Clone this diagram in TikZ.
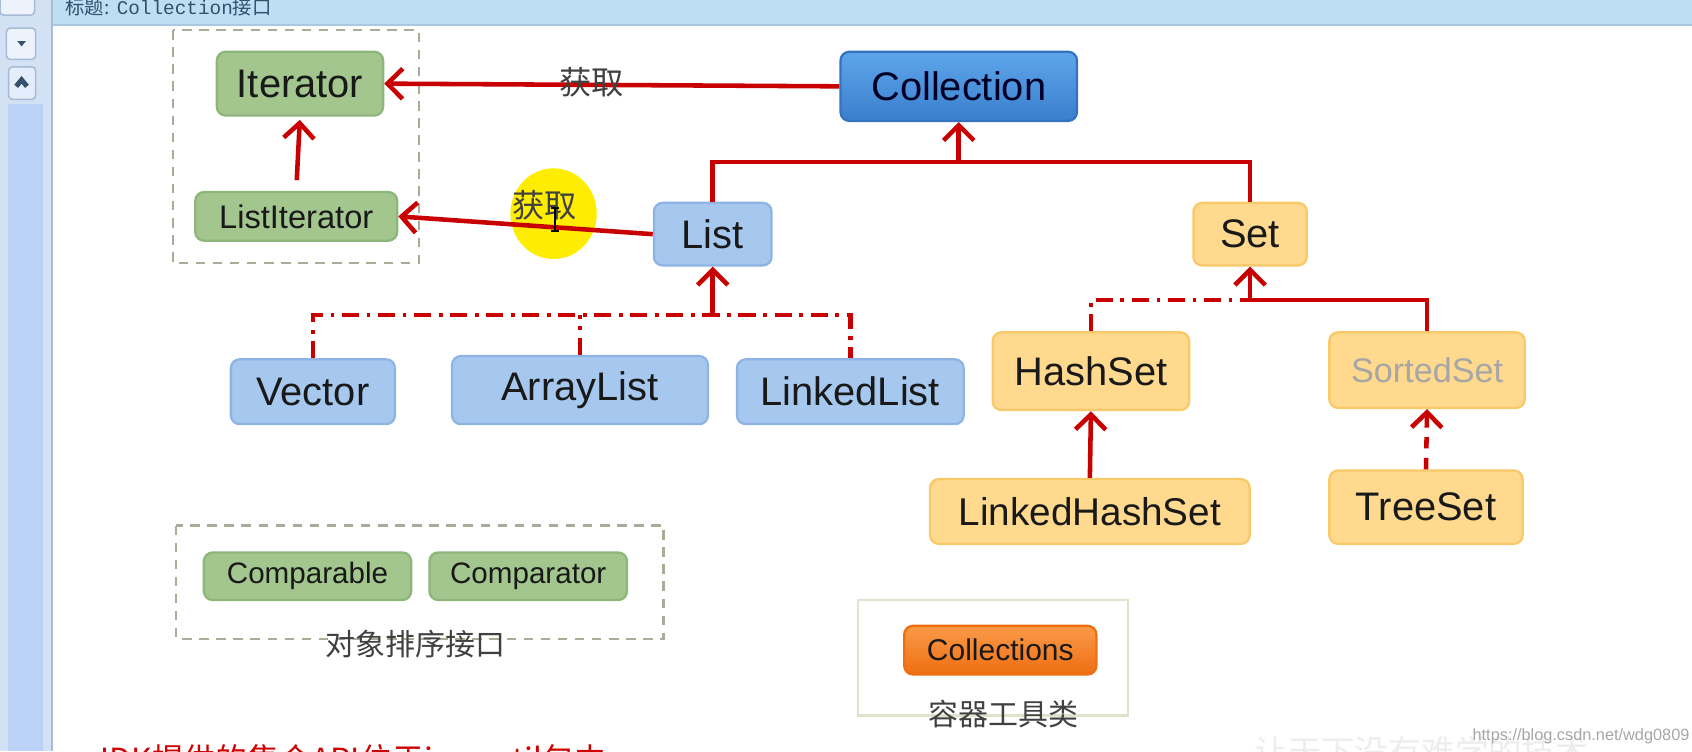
\documentclass[tikz,border=0pt]{standalone}
\usepackage{fontspec}
\setmainfont{Liberation Sans}
\newfontfamily\cjk{Noto Sans CJK SC}
\newfontfamily\monotitle{Liberation Mono}
\usetikzlibrary{arrows.meta}
\newcommand\boxfont[1]{\fontsize{#1}{#1}\selectfont}
\definecolor{jred}{HTML}{C80000}
\definecolor{jgreen}{HTML}{A3C68F}
\definecolor{jgreenline}{HTML}{8CB67A}
\definecolor{jbluetop}{HTML}{5EA6EB}
\definecolor{jbluebot}{HTML}{3A7ECC}
\definecolor{jbluedark}{HTML}{3573C0}
\definecolor{jlight}{HTML}{A6C7EE}
\definecolor{jlightline}{HTML}{8DB4E4}
\definecolor{jorange}{HTML}{FFD98E}
\definecolor{jorangeline}{HTML}{F9C869}
\definecolor{jtooltop}{HTML}{FA9A48}
\definecolor{jtoolbot}{HTML}{EE6E12}
\definecolor{jbar}{HTML}{BDDEF3}
\definecolor{jbarline}{HTML}{A6C8E2}
\definecolor{jside}{HTML}{D3E1F4}
\definecolor{jsideline}{HTML}{A9BAD6}
\definecolor{jtrack}{HTML}{BCD1F6}
\definecolor{jtitle}{HTML}{34506E}
\definecolor{jgroup}{HTML}{A9AC98}
\definecolor{jframe}{HTML}{E2E2CC}
\tikzset{
  >={Straight Barb[length=4pt, width=8pt]},
  px/.style={x=0.01cm, y=-0.01cm},
  box/.style={rounded corners=2.3pt, draw, line width=0.6pt, inner sep=0pt, text=black!90},
  ifacebox/.style={box, fill=jgreen, draw=jgreenline},
  rootbox/.style={box, top color=jbluetop, bottom color=jbluebot, draw=jbluedark, text=black!85!blue},
  listbox/.style={box, fill=jlight, draw=jlightline},
  setbox/.style={box, fill=jorange, draw=jorangeline},
  toolbox/.style={box, top color=jtooltop, bottom color=jtoolbot, draw=jtoolbot},
  % inheritance lines are solid, implementation lines dash dot
  inherit/.style={jred, line width=1.2pt},
  impl/.style={inherit, dash pattern=on 4.5pt off 2pt on 1pt off 2pt},
  group/.style={jgroup, dash pattern=on 2.5pt off 2pt, line width=0.6pt},
  cjklabel/.style={font=\cjk\boxfont{8.5}, text=black!75},
}

\begin{document}
\begin{tikzpicture}[px]
  \useasboundingbox (0,0) rectangle (1568,696);
  \clip (0,0) rectangle (1568,696);
  % window chrome
  \fill[jside] (0,0) rectangle (49,696);
  \fill[jtrack] (7,96) rectangle (40,696);
  \draw[jsideline] (48,0) -- (48,696);
  \draw[jsideline, fill=jside!40!white, rounded corners=1pt] (0,-5) rectangle (32,14);
  \draw[jsideline, fill=jside!40!white, rounded corners=1pt] (6,26) rectangle (33,55);
  \fill[jtitle] (16,38) -- (24,38) -- (20,43) -- cycle;
  \draw[jsideline, fill=jtrack!40!white, rounded corners=1pt] (8,62) rectangle (33,92);
  \draw[jtitle, line width=1.3pt] (15,80) -- (20,74) -- (25,80);
  \fill[jbar] (49,0) rectangle (1568,23);
  \draw[jbarline] (49,23) -- (1568,23);
  \node[anchor=base west, inner sep=0pt, text=jtitle, font=\boxfont{5.1}] (title) at (60,13)
    {{\cjk 标题:} {\monotitle Collection}{\cjk 接口}};

  % groups
  \draw[group] (160,28) rectangle (388,244);
  \draw[group] (163,487) rectangle (615,592);
  \draw[jframe, line width=0.6pt] (795,556) rectangle (1045,663);

  % interfaces and classes
  \node[rootbox, minimum width=2.19cm, minimum height=0.64cm, font=\boxfont{10.5}] (coll) at (888.5,80) {Collection};
  \node[ifacebox, minimum width=1.54cm, minimum height=0.59cm, font=\boxfont{10.5}] (iter) at (278,77.5) {Iterator};
  \node[ifacebox, minimum width=1.87cm, minimum height=0.45cm, font=\boxfont{8.6}] (listiter) at (274.5,200.5) {ListIterator};
  \node[listbox, minimum width=1.09cm, minimum height=0.58cm, font=\boxfont{10.5}] (list) at (660.5,217) {List};
  \node[setbox, minimum width=1.05cm, minimum height=0.58cm, font=\boxfont{10.5}] (set) at (1158.5,217) {Set};
  \node[listbox, minimum width=1.52cm, minimum height=0.60cm, font=\boxfont{10.5}] (vector) at (290,363) {Vector};
  \node[listbox, minimum width=2.37cm, minimum height=0.63cm, font=\boxfont{10.5}] (arraylist) at (537.5,361.5) {ArrayList};
  \node[listbox, minimum width=2.10cm, minimum height=0.60cm, font=\boxfont{10.5}] (linkedlist) at (788,363) {LinkedList};
  \node[setbox, minimum width=1.82cm, minimum height=0.72cm, font=\boxfont{10.5}] (hashset) at (1011,344) {HashSet};
  \node[setbox, minimum width=1.81cm, minimum height=0.70cm, font=\boxfont{9}, text=black!35] (sortedset) at (1322.5,343) {SortedSet};
  \node[setbox, minimum width=2.96cm, minimum height=0.60cm, font=\boxfont{10.2}] (lhs) at (1010,474) {LinkedHashSet};
  \node[setbox, minimum width=1.79cm, minimum height=0.68cm, font=\boxfont{10.5}] (treeset) at (1321.5,470) {TreeSet};
  \node[ifacebox, minimum width=1.92cm, minimum height=0.44cm, font=\boxfont{7.8}] (comparable) at (285,534) {Comparable};
  \node[ifacebox, minimum width=1.83cm, minimum height=0.44cm, font=\boxfont{7.8}] (comparator) at (489.5,534) {Comparator};
  \node[toolbox, minimum width=1.78cm, minimum height=0.45cm, font=\boxfont{7.9}] (collections) at (927,602.5) {Collections};

  % "get" arrows
  \draw[inherit, ->] (coll.west) -- (iter.east);
  \node[cjklabel] (get1) at (548,76) {获取};
  \fill[yellow!95!orange] (513,198) ellipse (0.40cm and 0.42cm);
  \draw[inherit, ->] (list.west) -- (listiter.east);
  \node[cjklabel] (get2) at (505,190) {获取};
  \draw[black, line width=0.5pt] (511,193) -- (518,193) (514.5,193) -- (514.5,214) (511,214) -- (518,214);
  \draw[inherit, ->, shorten <=0.1cm, shorten >=0.03cm] (listiter.north) -- (iter.south);

  % Collection tree
  \coordinate (jc) at (888.5,150);
  \draw[inherit] (list.north) |- (jc) -| (set.north);
  \draw[inherit, ->] (jc) -- (coll.south);
  \coordinate (jl) at (660.5,292);
  \draw[impl] (vector.north) |- (linkedlist.north |- jl) -- (linkedlist.north);
  \draw[impl] (arraylist.north) -- (arraylist.north |- jl);
  \draw[inherit, ->] (jl) -- (list.south);
  \coordinate (js) at (1158.5,278);
  \draw[impl] (hashset.north) |- (js);
  \draw[inherit] (js) -| (sortedset.north);
  \draw[inherit, ->] (js) -- (set.south);
  \draw[inherit, ->] (lhs.north) -- (hashset.south);
  \draw[inherit, ->, dash pattern=on 3pt off 2.5pt] (treeset.north) -- (sortedset.south);

  % group labels
  \node[cjklabel, font=\cjk\boxfont{7.9}] (sortlabel) at (385,597) {对象排序接口};
  \node[cjklabel, font=\cjk\boxfont{7.9}] (toollabel) at (930,662) {容器工具类};

  % cut off footer text and watermarks
  \node[anchor=base west, inner sep=0pt, text=jred!90!red, font=\cjk\boxfont{8.4}] (footer) at (85,715) {JDK提供的集合API位于java.util包中};
  \node[anchor=base west, inner sep=0pt, text=black!7, font=\cjk\boxfont{8.8}] (slogan) at (1162,708) {让天下没有难学的技术};
  \node[anchor=base west, inner sep=0pt, text=black!35, font=\boxfont{4.3}] (url) at (1364,686) {https://blog.csdn.net/wdg0809};
\end{tikzpicture}
\end{document}
